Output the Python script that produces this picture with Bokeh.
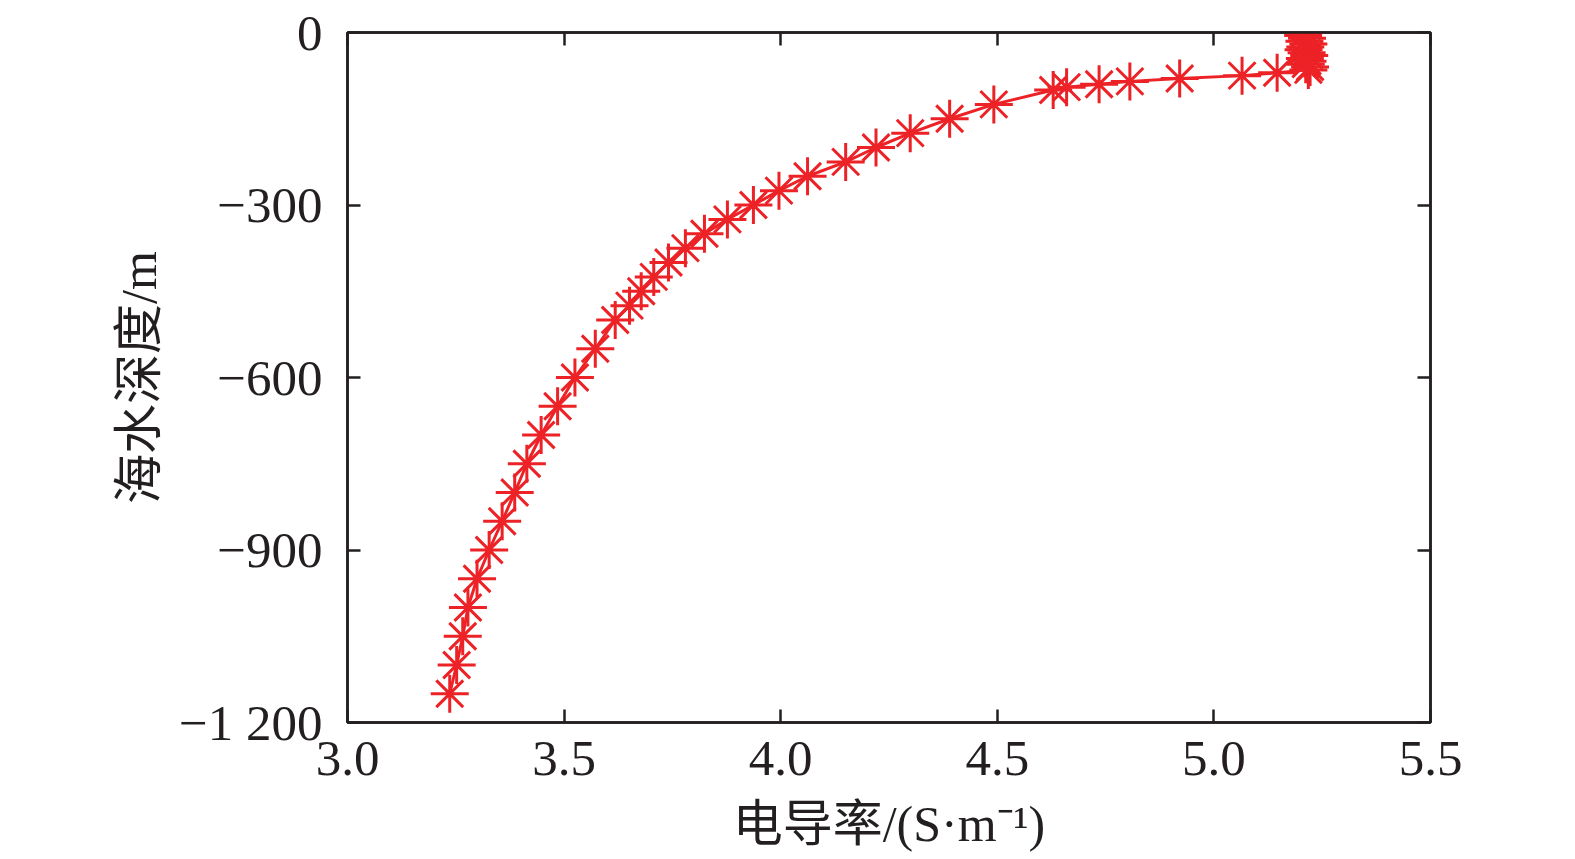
from bokeh.plotting import figure
from bokeh.models import LinearAxis, FixedTicker, ColumnDataSource
from bokeh.embed import file_html
from bokeh.resources import INLINE

# Sea-water depth (m) and electrical conductivity (S/m)
depth = [0, -5, -10, -15, -20, -25, -30, -35, -40, -45, -50, -55, -60, -65,
         -70, -75, -80, -85, -90, -95, -100,
         -125, -150, -175, -200, -225, -250, -275, -300, -325, -350, -375,
         -400, -425, -450, -475, -500,
         -550, -600, -650, -700, -750, -800, -850, -900, -950, -1000,
         -1050, -1100, -1150]
conductivity = [5.212, 5.206, 5.215, 5.209, 5.218, 5.211, 5.207, 5.214, 5.220, 5.210,
                5.216, 5.212, 5.222, 5.218,
                5.146, 5.065, 4.921, 4.806, 4.735, 4.660, 4.629,
                4.492, 4.390, 4.299, 4.220, 4.150, 4.062, 3.996, 3.937, 3.877, 3.824, 3.780,
                3.741, 3.707, 3.678, 3.651, 3.618,
                3.572, 3.525, 3.485, 3.447, 3.414, 3.386, 3.357, 3.327, 3.299, 3.278,
                3.266, 3.252, 3.236]

x_ticks = [3.0, 3.5, 4.0, 4.5, 5.0, 5.5]
x_tick_labels = ["3.0", "3.5", "4.0", "4.5", "5.0", "5.5"]
y_ticks = [0, -300, -600, -900, -1200]
y_tick_labels = ["0", "\u2212300", "\u2212600", "\u2212900", "\u22121 200"]

x_title = "电导率/(S·m\u207b\u00b9)"
y_title = "海水深度/m"

RED = "#ec2227"
INK = "#231f20"
TICK_FONT = "Liberation Serif"
TITLE_FONT = "Liberation Serif, Noto Sans CJK SC"

p = figure(frame_width=1083, frame_height=690,
           x_range=(3.0, 5.5), y_range=(-1200, 0),
           output_backend="svg", toolbar_location=None,
           min_border_left=347, min_border_top=32,
           min_border_right=110, min_border_bottom=110,
           background_fill_color="white", border_fill_color="white")
p.xgrid.visible = False
p.ygrid.visible = False
p.outline_line_color = INK
p.outline_line_width = 2.5

src = ColumnDataSource(dict(x=conductivity, y=depth))
p.line("x", "y", source=src, line_color=RED, line_width=3)
p.scatter("x", "y", source=src, marker="asterisk", size=38,
          line_color=RED, line_width=3)

def style(ax, ticks, labels, show_labels):
    ax.ticker = FixedTicker(ticks=ticks)
    ax.major_label_overrides = {t: (l if show_labels else "") for t, l in zip(ticks, labels)}
    ax.minor_tick_line_color = None
    ax.major_tick_in = 13
    ax.major_tick_out = 0
    ax.major_tick_line_width = 2.5
    ax.major_tick_line_color = INK
    ax.axis_line_color = INK
    ax.axis_line_width = 2.5
    ax.major_label_text_font = TICK_FONT
    ax.major_label_text_font_size = "51px" if show_labels else "0px"
    ax.major_label_text_color = INK
    ax.axis_label_text_font = TITLE_FONT
    ax.axis_label_text_font_size = "50px"
    ax.axis_label_text_font_style = "normal"
    ax.axis_label_text_color = INK

xa = p.xaxis[0]
style(xa, x_ticks, x_tick_labels, True)
xa.axis_label = x_title
xa.major_label_standoff = 19
xa.axis_label_standoff = 18

ya = p.yaxis[0]
style(ya, y_ticks, y_tick_labels, True)
ya.axis_label = y_title
ya.major_label_standoff = 25
ya.axis_label_standoff = 9

top = LinearAxis()
style(top, x_ticks, x_tick_labels, False)
top.major_label_standoff = 0
p.add_layout(top, "above")

right = LinearAxis()
style(right, y_ticks, y_tick_labels, False)
right.major_label_standoff = 0
p.add_layout(right, "right")

open("out.html", "w").write(file_html(p, INLINE))
